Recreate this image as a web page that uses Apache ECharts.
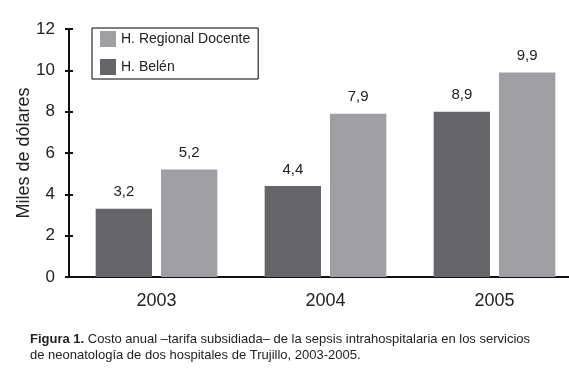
<!DOCTYPE html>
<html>
<head>
<meta charset="utf-8">
<script src="https://cdn.jsdelivr.net/npm/echarts@6/dist/echarts.min.js"></script>
<style>
  html, body { margin: 0; padding: 0; background: #fff; }
  #chart { width: 569px; height: 378px; }
</style>
</head>
<body>
<div id="chart"></div>
<script>
// años
var years = ["2003", "2004", "2005"];
// altura de las barras
var belenValues = [3.3, 4.4, 8.0];
var regionalValues = [5.2, 7.9, 9.9];
// rótulos impresos sobre cada barra
var belenLabels = ["3,2", "4,4", "8,9"];
var regionalLabels = ["5,2", "7,9", "9,9"];
// eje y
var yTicks = [0, 2, 4, 6, 8, 10, 12];

var font = "Liberation Sans, Arial, sans-serif";
var myChart = echarts.init(document.getElementById("chart"));

var option = {
  animation: false,
  textStyle: { fontFamily: font },
  title: {
    left: 25,
    top: 326,
    text: "{b|Figura 1.} Costo anual \u2013tarifa subsidiada\u2013 de la sepsis intrahospitalaria en los servicios\nde neonatología de dos hospitales de Trujillo, 2003-2005.",
    textStyle: {
      fontFamily: font,
      fontSize: 13,
      fontWeight: "normal",
      color: "#222",
      lineHeight: 16,
      rich: {
        b: { fontFamily: font, fontSize: 13, fontWeight: "bold", color: "#222", lineHeight: 16 }
      }
    }
  },
  legend: {
    orient: "vertical",
    left: 92,
    top: 28,
    padding: [3, 8, 4, 8],
    borderColor: "#000",
    borderWidth: 1,
    itemWidth: 16,
    itemHeight: 16,
    itemGap: 12,
    icon: "rect",
    data: ["H. Regional Docente", "H. Belén"],
    textStyle: { fontFamily: font, fontSize: 14, color: "#222" }
  },
  grid: {
    left: 72,
    right: -10,
    top: 29,
    bottom: 101,
    outerBoundsMode: "none"
  },
  xAxis: {
    type: "category",
    data: years,
    axisLine: { lineStyle: { color: "#111", width: 2 } },
    axisTick: { show: false },
    axisLabel: { fontFamily: font, fontSize: 18, color: "#222", margin: 15 }
  },
  yAxis: [
    {
      type: "value",
      min: yTicks[0],
      max: yTicks[yTicks.length - 1],
      interval: 2,
      offset: 3,
      name: "Miles de dólares",
      nameLocation: "middle",
      nameGap: 36,
      nameMoveOverlap: false,
      nameTextStyle: { fontFamily: font, fontSize: 18, color: "#222" },
      axisLine: { show: true, lineStyle: { color: "#111", width: 2 } },
      axisTick: { show: true, length: 4, lineStyle: { color: "#111", width: 2 } },
      axisLabel: { fontFamily: font, fontSize: 17, color: "#222", margin: 14 },
      splitLine: { show: false }
    },
    {
      type: "value",
      min: yTicks[0],
      max: yTicks[yTicks.length - 1],
      interval: 2,
      offset: 3,
      position: "left",
      axisLine: { show: false },
      axisTick: { show: true, inside: true, length: 4, lineStyle: { color: "#111", width: 2 } },
      axisLabel: { show: false },
      splitLine: { show: false }
    }
  ],
  series: [
    {
      name: "H. Belén",
      type: "bar",
      data: belenValues,
      barGap: "16%",
      barCategoryGap: "28%",
      itemStyle: { color: "#656468" },
      label: {
        show: true,
        position: "top",
        distance: 9,
        fontFamily: font,
        fontSize: 15,
        color: "#222",
        formatter: function (p) {
          return belenLabels[p.dataIndex];
        }
      }
    },
    {
      name: "H. Regional Docente",
      type: "bar",
      data: regionalValues,
      itemStyle: { color: "#9f9fa3" },
      label: {
        show: true,
        position: "top",
        distance: 9,
        fontFamily: font,
        fontSize: 15,
        color: "#222",
        formatter: function (p) {
          return regionalLabels[p.dataIndex];
        }
      }
    }
  ]
};

myChart.setOption(option, true);
window.addEventListener("resize", () => {
  myChart.resize();
});
</script>
</body>
</html>
